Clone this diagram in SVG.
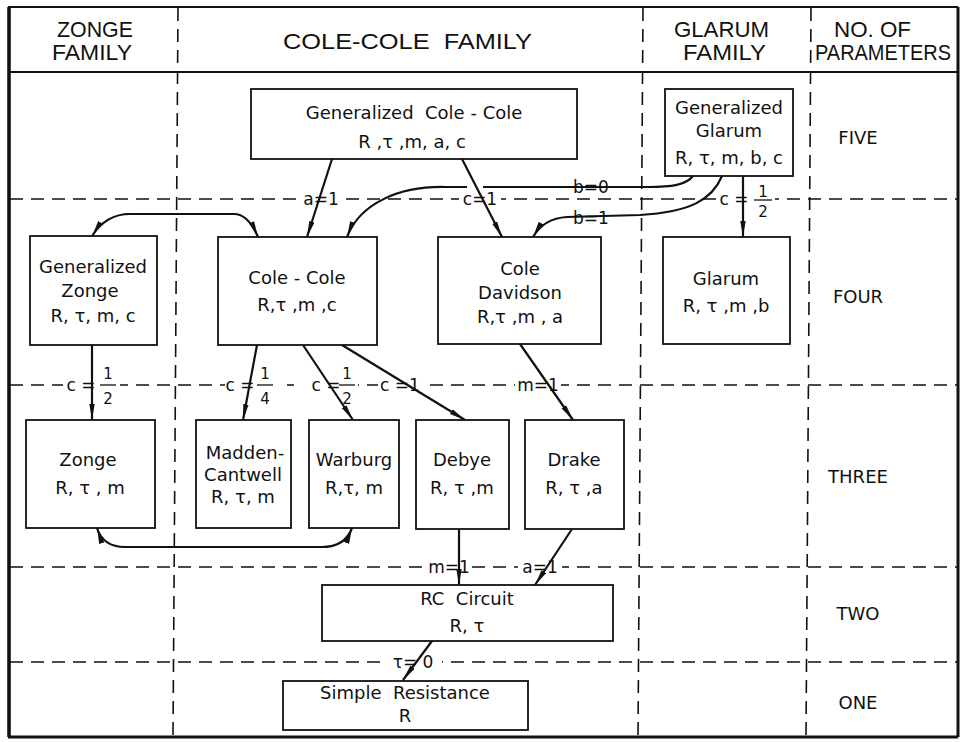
<svg xmlns="http://www.w3.org/2000/svg" width="965" height="742" viewBox="0 0 965 742">
<defs>
<style>
.dash{stroke:#111;stroke-width:1.6;stroke-dasharray:13 8;fill:none}
.box{fill:#fff;stroke:#111;stroke-width:1.8}
.con{fill:none;stroke:#111;stroke-width:2.2}
.bg{fill:#fff;stroke:none}
.hd{font-family:"Liberation Sans",Arial,sans-serif;font-size:22px;fill:#111}
.nt{font-family:"DejaVu Sans",sans-serif;font-size:18px;fill:#111;text-anchor:middle;white-space:pre}
.lb{font-family:"DejaVu Sans",sans-serif;font-size:17px;fill:#111;text-anchor:middle}
.fr{font-family:"DejaVu Sans",sans-serif;font-size:15px;fill:#111;text-anchor:middle}
.pm{font-family:"DejaVu Sans",sans-serif;font-size:18px;fill:#111;text-anchor:middle}
</style>
<marker id="ah" viewBox="0 0 16 6" refX="16" refY="3" markerWidth="16" markerHeight="6" markerUnits="userSpaceOnUse" orient="auto-start-reverse">
<path d="M0,0.3 L16,3 L0,5.7 z" fill="#111"/>
</marker>
</defs>
<rect x="0" y="0" width="965" height="742" fill="#fff"/>

<g id="frame">
<line x1="8" y1="7" x2="958" y2="7" stroke="#111" stroke-width="2"/>
<line x1="958" y1="7" x2="958" y2="737" stroke="#111" stroke-width="3"/>
<line x1="8" y1="737" x2="958" y2="737" stroke="#111" stroke-width="3.2"/>
<line x1="9" y1="7" x2="9" y2="737" stroke="#111" stroke-width="3.6"/>
<line x1="8" y1="72" x2="958" y2="72" stroke="#111" stroke-width="2"/>
<line class="dash" x1="178" y1="8" x2="173" y2="736"/>
<line class="dash" x1="643" y1="8" x2="638" y2="736"/>
<line class="dash" x1="811" y1="8" x2="806" y2="736"/>
<line class="dash" x1="10" y1="199" x2="957" y2="199"/>
<line class="dash" x1="10" y1="385" x2="957" y2="385"/>
<line class="dash" x1="10" y1="567" x2="957" y2="567"/>
<line class="dash" x1="10" y1="662" x2="957" y2="662"/>
</g>

<g id="header">
<text class="hd" x="57" y="37" textLength="76" lengthAdjust="spacingAndGlyphs">ZONGE</text>
<text class="hd" x="52" y="60" textLength="80" lengthAdjust="spacingAndGlyphs">FAMILY</text>
<text class="hd" x="283" y="49" textLength="249" lengthAdjust="spacingAndGlyphs" style="white-space:pre">COLE-COLE  FAMILY</text>
<text class="hd" x="674" y="37" textLength="95" lengthAdjust="spacingAndGlyphs">GLARUM</text>
<text class="hd" x="683" y="60" textLength="83" lengthAdjust="spacingAndGlyphs">FAMILY</text>
<text class="hd" x="834" y="37" textLength="77" lengthAdjust="spacingAndGlyphs">NO. OF</text>
<text class="hd" x="815" y="60" textLength="136" lengthAdjust="spacingAndGlyphs">PARAMETERS</text>
</g>

<g id="params">
<text class="pm" x="858" y="144">FIVE</text>
<text class="pm" x="858" y="303">FOUR</text>
<text class="pm" x="858" y="483">THREE</text>
<text class="pm" x="858" y="620">TWO</text>
<text class="pm" x="858" y="709">ONE</text>
</g>

<g id="label-bgs">
<rect class="bg" x="302" y="190" width="38" height="18"/>
<rect class="bg" x="459" y="190" width="42" height="18"/>
<rect class="bg" x="568" y="178" width="46" height="18"/>
<rect class="bg" x="569" y="208" width="43" height="19"/>
<rect class="bg" x="719" y="190" width="56" height="18"/>
<rect class="bg" x="63" y="378" width="57" height="15"/>
<rect class="bg" x="225" y="378" width="62" height="15"/>
<rect class="bg" x="294" y="378" width="64" height="15"/>
<rect class="bg" x="378" y="378" width="44" height="15"/>
<rect class="bg" x="515" y="378" width="46" height="15"/>
<rect class="bg" x="427" y="560" width="44" height="15"/>
<rect class="bg" x="518" y="560" width="44" height="15"/>
<rect class="bg" x="384" y="655" width="58" height="15"/>
</g>

<g id="connectors">
<path class="con" d="M332,159 L307,237" marker-end="url(#ah)"/>
<path class="con" d="M693,176 C686,185 672,187 648,187 L483,187"/>
<path class="con" d="M467,187 L445,187 C400,186 360,203 347,237" marker-end="url(#ah)"/>
<path class="con" d="M462,159 L502,237" marker-end="url(#ah)"/>
<path class="con" d="M722,176 C712,200 690,212 640,215 L567,217 C550,218 540,225 533,237" marker-end="url(#ah)"/>
<path class="con" d="M743,176 L743,237" marker-end="url(#ah)"/>
<path class="con" d="M258,237 Q248,214 234,214 L130,214 Q106,214 92,236" marker-start="url(#ah)" marker-end="url(#ah)"/>
<path class="con" d="M92,345 L92,420" marker-end="url(#ah)"/>
<path class="con" d="M257,345 L243,420" marker-end="url(#ah)"/>
<path class="con" d="M303,345 L353,420" marker-end="url(#ah)"/>
<path class="con" d="M342,345 L465,420" marker-end="url(#ah)"/>
<path class="con" d="M520,344 L573,420" marker-end="url(#ah)"/>
<path class="con" d="M97,528 Q103,547 125,547 L322,547 Q345,547 352,528" marker-start="url(#ah)" marker-end="url(#ah)"/>
<path class="con" d="M459,529 L459,585" marker-end="url(#ah)"/>
<path class="con" d="M572,529 L535,585" marker-end="url(#ah)"/>
<path class="con" d="M432,641 L403,680" marker-end="url(#ah)"/>
</g>

<g id="connector-labels">
<text class="lb" x="321" y="205">a=1</text>
<text class="lb" x="480" y="205">c=1</text>
<text class="lb" x="591" y="193">b=0</text>
<text class="lb" x="591" y="224">b=1</text>
<text class="lb" x="734" y="205" style="white-space:pre">c =</text>
<text class="fr" x="763" y="197">1</text>
<line x1="754" y1="200" x2="772" y2="200" stroke="#111" stroke-width="1.3"/>
<text class="fr" x="763" y="217">2</text>
<text class="lb" x="81" y="391" style="white-space:pre">c =</text>
<text class="fr" x="108" y="379">1</text>
<line x1="100" y1="385" x2="116" y2="385" stroke="#111" stroke-width="1.3"/>
<text class="fr" x="108" y="404">2</text>
<text class="lb" x="240" y="391" style="white-space:pre">c =</text>
<text class="fr" x="265" y="379">1</text>
<line x1="257" y1="385" x2="273" y2="385" stroke="#111" stroke-width="1.3"/>
<text class="fr" x="265" y="404">4</text>
<text class="lb" x="326" y="391" style="white-space:pre">c =</text>
<text class="fr" x="347" y="379">1</text>
<line x1="339" y1="385" x2="355" y2="385" stroke="#111" stroke-width="1.3"/>
<text class="fr" x="347" y="404">2</text>
<text class="lb" x="400" y="391">c =1</text>
<text class="lb" x="538" y="391">m=1</text>
<text class="lb" x="449" y="573">m=1</text>
<text class="lb" x="540" y="573">a=1</text>
<text class="lb" x="413" y="668">τ= 0</text>
</g>

<g id="gen-cole-cole">
<rect class="box" x="251" y="89" width="326" height="70"/>
<text class="nt" x="414" y="119">Generalized  Cole - Cole</text>
<text class="nt" x="412" y="148">R ,τ ,m, a, c</text>
</g>
<g id="gen-glarum">
<rect class="box" x="665" y="89" width="128" height="87"/>
<text class="nt" x="729" y="114">Generalized</text>
<text class="nt" x="729" y="137">Glarum</text>
<text class="nt" x="729" y="164">R, τ, m, b, c</text>
</g>
<g id="gen-zonge">
<rect class="box" x="30" y="236" width="127" height="109"/>
<text class="nt" x="93" y="273">Generalized</text>
<text class="nt" x="90" y="297">Zonge</text>
<text class="nt" x="93" y="322">R, τ, m, c</text>
</g>
<g id="cole-cole">
<rect class="box" x="218" y="237" width="159" height="108"/>
<text class="nt" x="297" y="284">Cole - Cole</text>
<text class="nt" x="297" y="311">R,τ ,m ,c</text>
</g>
<g id="cole-davidson">
<rect class="box" x="438" y="237" width="163" height="107"/>
<text class="nt" x="520" y="275">Cole</text>
<text class="nt" x="520" y="299">Davidson</text>
<text class="nt" x="520" y="323">R,τ ,m , a</text>
</g>
<g id="glarum">
<rect class="box" x="663" y="237" width="127" height="107"/>
<text class="nt" x="726" y="285">Glarum</text>
<text class="nt" x="726" y="312">R, τ ,m ,b</text>
</g>
<g id="zonge">
<rect class="box" x="26" y="420" width="129" height="108"/>
<text class="nt" x="88" y="466">Zonge</text>
<text class="nt" x="90" y="494">R, τ , m</text>
</g>
<g id="madden-cantwell">
<rect class="box" x="196" y="420" width="95" height="108"/>
<text class="nt" x="245" y="459">Madden-</text>
<text class="nt" x="243" y="481">Cantwell</text>
<text class="nt" x="243" y="503">R, τ, m</text>
</g>
<g id="warburg">
<rect class="box" x="309" y="420" width="90" height="108"/>
<text class="nt" x="354" y="466">Warburg</text>
<text class="nt" x="354" y="494">R,τ, m</text>
</g>
<g id="debye">
<rect class="box" x="416" y="420" width="93" height="109"/>
<text class="nt" x="462" y="466">Debye</text>
<text class="nt" x="462" y="494">R, τ ,m</text>
</g>
<g id="drake">
<rect class="box" x="525" y="420" width="99" height="109"/>
<text class="nt" x="574" y="466">Drake</text>
<text class="nt" x="574" y="494">R, τ ,a</text>
</g>
<g id="rc-circuit">
<rect class="box" x="322" y="585" width="291" height="56"/>
<text class="nt" x="467" y="605">RC  Circuit</text>
<text class="nt" x="467" y="632">R, τ</text>
</g>
<g id="simple-resistance">
<rect class="box" x="283" y="681" width="245" height="49"/>
<text class="nt" x="405" y="699">Simple  Resistance</text>
<text class="nt" x="405" y="722">R</text>
</g>
</svg>
